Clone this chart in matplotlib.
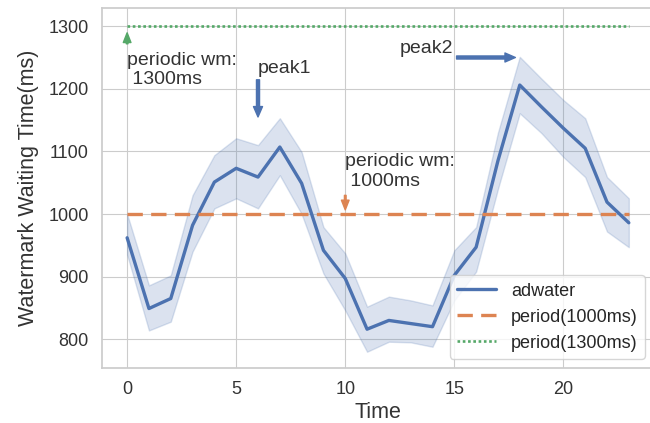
import matplotlib
matplotlib.use('Agg')
import matplotlib.pyplot as plt
import numpy as np
import seaborn as sns

# Time steps and adwater waiting time (mean and confidence band)
time = np.arange(24)
adwater = [962, 849, 865, 982, 1051, 1073, 1059, 1107, 1049, 942, 897, 816,
           830, 825, 820, 902, 947, 1085, 1206, 1171, 1137, 1105, 1019, 986]
band_low = [935, 814, 828, 940, 1009, 1025, 1009, 1062, 1000, 905, 846, 780,
            796, 795, 788, 862, 908, 1040, 1161, 1129, 1091, 1059, 972, 947]
band_high = [1000, 886, 902, 1030, 1094, 1121, 1110, 1153, 1099, 979, 937, 852,
             868, 862, 854, 942, 979, 1130, 1251, 1216, 1182, 1153, 1059, 1025]
period_1000 = [1000] * 24
period_1300 = [1300] * 24

sns.set_style("whitegrid")
plt.rcParams['font.family'] = ['Liberation Sans', 'DejaVu Sans']

blue, orange, green = sns.color_palette("deep")[:3]

fig = plt.figure(figsize=(6.5, 4.23), dpi=100)
# axes runs a little past the right edge, like the cropped original
ax = fig.add_axes([0.157, 0.130, 0.849, 0.851])

ax.fill_between(time, band_low, band_high, color=blue, alpha=0.2, linewidth=1)
ax.plot(time, adwater, color=blue, lw=2.4, label='adwater')
ax.plot(time, period_1000, color=orange, lw=2.4, ls=(0, (4.6, 2.5)), label='period(1000ms)')
ax.plot(time, period_1300, color=green, lw=1.9, ls=(0, (1, 1)), label='period(1300ms)')

# annotations
ax.annotate('periodic wm:\n 1300ms', xy=(0, 1297), xytext=(0, 1207), fontsize=14,
            color='#333333',
            arrowprops=dict(color=green, width=1.2, headwidth=5.5, headlength=7, shrink=0.2))
ax.annotate('peak1', xy=(6, 1155), xytext=(6, 1226), fontsize=14, color='#333333',
            arrowprops=dict(color=blue, width=2.2, headwidth=6.5, headlength=7.5))
ax.annotate('periodic wm:\n 1000ms', xy=(10, 1003), xytext=(10, 1045), fontsize=14,
            color='#333333',
            arrowprops=dict(color=orange, width=1.2, headwidth=5.5, headlength=7, shrink=0.1))
ax.annotate('peak2', xy=(17.8, 1250), xytext=(12.5, 1250), fontsize=14, color='#333333',
            va='bottom',
            arrowprops=dict(color=blue, width=2.2, headwidth=6.5, headlength=7.5))

ax.set_xlim(-1.15, 24.15)
ax.set_ylim(754, 1329)
ax.set_xticks([0, 5, 10, 15, 20])
ax.set_yticks([800, 900, 1000, 1100, 1200, 1300])
ax.tick_params(labelsize=13, colors='#333333', pad=6)
ax.set_xlabel('Time', fontsize=15.5, color='#333333', labelpad=3)
ax.set_ylabel('Watermark Waiting Time(ms)', fontsize=15.5, color='#333333', labelpad=7)

for s in ax.spines.values():
    s.set_visible(True)
    s.set_color('#cccccc')
    s.set_linewidth(1.25)

ax.legend(loc='lower right', fontsize=13, handlelength=2.2, borderaxespad=0.5)

fig.savefig('out.png', dpi=100)
